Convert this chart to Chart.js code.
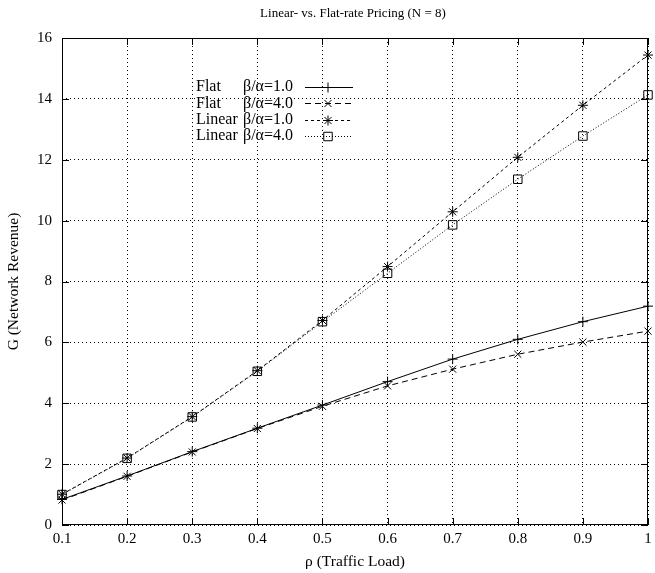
<!DOCTYPE html>
<html>
<head>
<meta charset="utf-8">
<script src="https://cdn.jsdelivr.net/npm/chart.js@4"></script>
<style>
  html, body { margin: 0; padding: 0; background: #fff; }
  #wrap { width: 655px; height: 573px; position: relative; }
</style>
</head>
<body>
<div id="wrap"><canvas id="chart"></canvas></div>
<script>
// traffic load (x) and revenue (y)
const rho = ['0.1', '0.2', '0.3', '0.4', '0.5', '0.6', '0.7', '0.8', '0.9', '1'];
const flatB1 = [0.84, 1.61, 2.41, 3.18, 3.94, 4.71, 5.45, 6.10, 6.68, 7.19];
const flatB4 = [0.82, 1.60, 2.40, 3.17, 3.90, 4.57, 5.12, 5.61, 6.01, 6.37];
const linearB1 = [1.01, 2.20, 3.56, 5.07, 6.72, 8.49, 10.29, 12.08, 13.79, 15.44];
const linearB4 = [1.00, 2.19, 3.55, 5.05, 6.68, 8.27, 9.86, 11.36, 12.78, 14.13];

const seriesNames = ['Flat', 'Flat', 'Linear', 'Linear'];
const ratioLabels = ['\u03B2/\u03B1=1.0', '\u03B2/\u03B1=4.0', '\u03B2/\u03B1=1.0', '\u03B2/\u03B1=4.0'];

const serif = "'Liberation Serif', 'DejaVu Serif', serif";

function makeSet(i, data, dash, pt, r) {
  return {
    label: seriesNames[i] + ' ' + ratioLabels[i],
    data: data,
    borderColor: '#000',
    borderWidth: 1,
    borderDash: dash,
    pointStyle: pt,
    pointRadius: r,
    pointBorderColor: '#000',
    pointBackgroundColor: 'rgba(0,0,0,0)',
    pointBorderWidth: 1,
    fill: false,
    tension: 0
  };
}

// gnuplot-like frame, inward ticks on all sides, title and key
const gnuFrame = {
  id: 'gnuFrame',
  afterDraw(chart) {
    const ctx = chart.ctx;
    const a = chart.chartArea;
    const xs = chart.scales.x, ys = chart.scales.y;
    ctx.save();
    ctx.strokeStyle = '#000';
    ctx.lineWidth = 1;
    ctx.setLineDash([]);
    ctx.strokeRect(a.left + 0.5, a.top + 0.5, a.right - a.left - 1, a.bottom - a.top - 1);
    ctx.beginPath();
    xs.ticks.forEach((t, i) => {
      const x = Math.round(xs.getPixelForTick(i)) + 0.5;
      ctx.moveTo(x, a.bottom); ctx.lineTo(x, a.bottom - 7);
      ctx.moveTo(x, a.top); ctx.lineTo(x, a.top + 7);
    });
    ys.ticks.forEach((t, i) => {
      const y = Math.round(ys.getPixelForTick(i)) + 0.5;
      ctx.moveTo(a.left, y); ctx.lineTo(a.left + 7, y);
      ctx.moveTo(a.right, y); ctx.lineTo(a.right - 7, y);
    });
    ctx.stroke();

    // title
    ctx.fillStyle = '#000';
    ctx.font = '13px ' + serif;
    ctx.textAlign = 'center';
    ctx.textBaseline = 'middle';
    ctx.fillText('Linear- vs. Flat-rate Pricing (N = 8)', 353, 14);

    // key
    ctx.font = '16px ' + serif;
    ctx.textAlign = 'left';
    chart.data.datasets.forEach((ds, i) => {
      const y = 87 + i * 16.3;
      const ly = Math.round(y) + 0.5;
      ctx.fillStyle = '#000';
      ctx.fillText(seriesNames[i], 196, y);
      ctx.fillText(ratioLabels[i], 243, y);
      ctx.beginPath();
      ctx.setLineDash(ds.borderDash);
      ctx.moveTo(305, ly);
      ctx.lineTo(353, ly);
      ctx.stroke();
      ctx.setLineDash([]);
      ctx.fillStyle = 'rgba(0,0,0,0)';
      Chart.helpers.drawPoint(ctx, {
        pointStyle: ds.pointStyle, radius: ds.pointRadius, borderWidth: 1, rotation: 0
      }, 328, ly);
    });
    ctx.restore();
  }
};

new Chart(document.getElementById('chart'), {
  type: 'line',
  data: {
    labels: rho,
    datasets: [
      makeSet(0, flatB1, [], 'cross', 5),
      makeSet(1, flatB4, [6, 4], 'crossRot', 5),
      makeSet(2, linearB1, [3, 3], 'star', 5),
      makeSet(3, linearB4, [1, 2], 'rect', 6)
    ]
  },
  options: {
    responsive: true,
    maintainAspectRatio: false,
    animation: false,
    layout: { padding: { top: 38, right: 2, left: 0, bottom: 0 } },
    plugins: {
      legend: { display: false },
      title: { display: false },
      tooltip: { enabled: false }
    },
    scales: {
      x: {
        type: 'category',
        offset: false,
        grid: { color: '#000', lineWidth: 1, drawTicks: false },
        border: { display: false, dash: [1, 3] },
        ticks: { color: '#000', padding: 5, maxRotation: 0, autoSkip: false, font: { family: serif, size: 15 } },
        title: { display: true, text: '\u03C1 (Traffic Load)', color: '#000', padding: { top: 0, bottom: 2 }, font: { family: serif, size: 15.5 } },
        afterFit(s) { s.height = 48; s.paddingLeft = 0; s.paddingRight = 0; }
      },
      y: {
        min: 0,
        max: 16,
        grid: { color: '#000', lineWidth: 1, drawTicks: false },
        border: { display: false, dash: [1, 3] },
        ticks: { stepSize: 2, color: '#000', padding: 10, font: { family: serif, size: 15 } },
        title: { display: true, text: 'G (Network Revenue)', color: '#000', padding: { top: 5, bottom: 0 }, font: { family: serif, size: 15.5 } },
        afterFit(s) { s.width = 62; s.paddingTop = 0; s.paddingBottom = 0; }
      }
    }
  },
  plugins: [gnuFrame]
});
</script>
</body>
</html>
